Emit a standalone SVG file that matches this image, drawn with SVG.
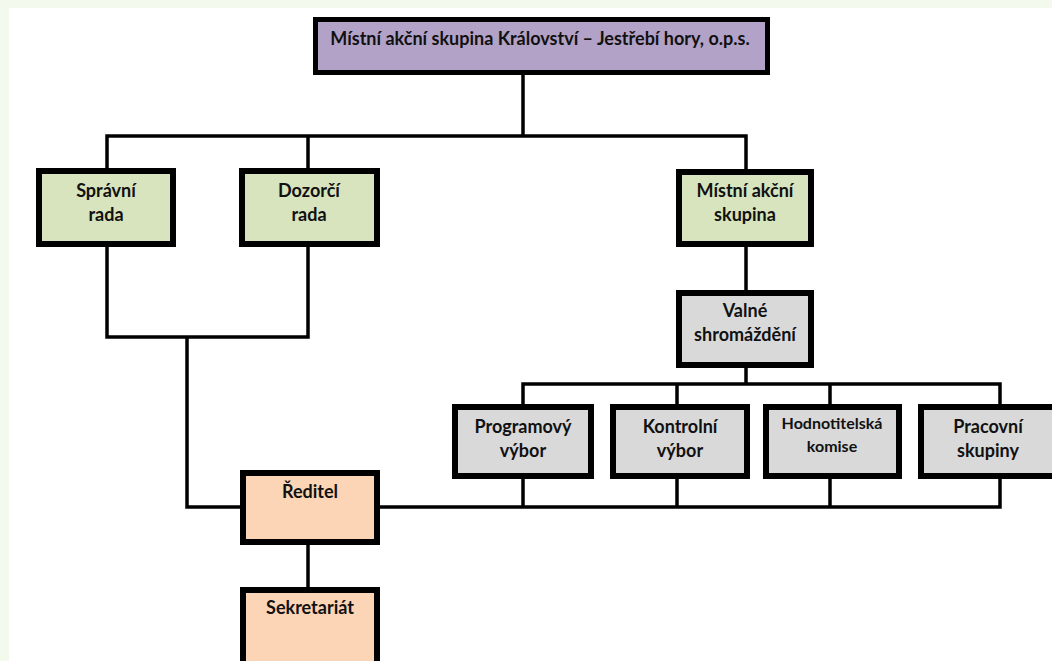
<svg xmlns="http://www.w3.org/2000/svg" width="1052" height="661" viewBox="0 0 1052 661">
<style>
.box{stroke:#000;stroke-width:6}
.purple{fill:#b3a2c7;stroke-width:5}
.green{fill:#d7e4bd}
.grey{fill:#d9d9d9}
.peach{fill:#fbd5b5}
.conn{fill:none;stroke:#000;stroke-width:3.5;stroke-linejoin:miter;stroke-linecap:square}
text{font-family:Lato,"Open Sans","Liberation Sans",sans-serif;font-weight:bold;font-size:18px;fill:#111;text-anchor:middle}
.small{font-size:16px}
</style>
<rect width="1052" height="661" fill="#ffffff"/>
<rect x="0" y="0" width="1052" height="8" fill="#f3f9ec"/>
<rect x="0" y="0" width="9" height="661" fill="#f3f9ec"/>
<g id="connectors">
<path class="conn" d="M523 75V136M107 168V136H746V170M308 136V168"/>
<path class="conn" d="M746 246V290M746 368V384M523 404V384H1000V404M677 384V404M830 384V404"/>
<path class="conn" d="M107 246V337H308V246M187 337V507H240"/>
<path class="conn" d="M380 507H1000V478M523 478V507M677 478V507M830 478V507"/>
<path class="conn" d="M308 545V587"/>
</g>
<g id="top"><rect class="box purple" x="315.5" y="19.5" width="452" height="53"/><text x="540" y="45">Místní akční skupina Království – Jestřebí hory, o.p.s.</text></g>
<g id="spravni"><rect class="box green" x="39" y="171" width="134" height="73"/><text x="106" y="197">Správní</text><text x="106" y="221">rada</text></g>
<g id="dozorci"><rect class="box green" x="242" y="171" width="135" height="73"/><text x="309" y="197">Dozorčí</text><text x="309" y="221">rada</text></g>
<g id="mas"><rect class="box green" x="679" y="172" width="132" height="72"/><text x="745" y="197">Místní akční</text><text x="745" y="221">skupina</text></g>
<g id="valne"><rect class="box grey" x="679" y="293" width="132" height="72"/><text x="745" y="317">Valné</text><text x="745" y="341">shromáždění</text></g>
<g id="programovy"><rect class="box grey" x="455" y="407" width="136" height="69"/><text x="523" y="433">Programový</text><text x="523" y="457">výbor</text></g>
<g id="kontrolni"><rect class="box grey" x="613" y="407" width="134" height="69"/><text x="680" y="433">Kontrolní</text><text x="680" y="457">výbor</text></g>
<g id="hodnotitelska"><rect class="box grey" x="766" y="407" width="133" height="69"/><text class="small" x="832" y="429">Hodnotitelská</text><text class="small" x="832" y="452">komise</text></g>
<g id="pracovni"><rect class="box grey" x="921" y="407" width="150" height="69"/><text x="988" y="433">Pracovní</text><text x="988" y="457">skupiny</text></g>
<g id="reditel"><rect class="box peach" x="243" y="473" width="134" height="69"/><text x="310" y="498">Ředitel</text></g>
<g id="sekretariat"><rect class="box peach" x="243" y="590" width="134" height="80"/><text x="310" y="614">Sekretariát</text></g>
</svg>
